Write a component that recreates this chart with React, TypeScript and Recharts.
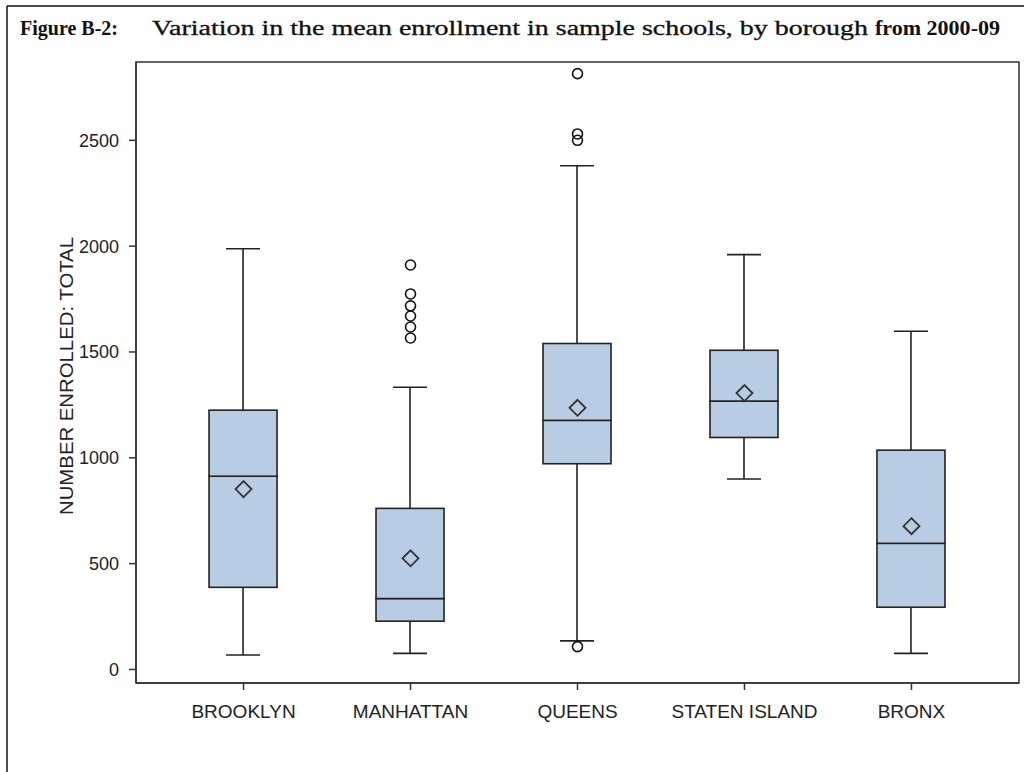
import { ComposedChart, Bar, Scatter, XAxis, YAxis, ReferenceArea } from "recharts";

// box plot summary (number enrolled)
const BOROUGHS = ["BROOKLYN", "MANHATTAN", "QUEENS", "STATEN ISLAND", "BRONX"];
const WHISKER_LOW = [68, 76, 135, 900, 76];
const Q1 = [388, 228, 972, 1096, 294];
const MEDIAN = [913, 335, 1177, 1268, 596];
const Q3 = [1225, 761, 1540, 1508, 1036];
const WHISKER_HIGH = [1988, 1333, 2380, 1960, 1598];
const MEAN = [852, 525, 1236, 1306, 677];

// outliers: borough index + value
const OUTLIER_BOROUGH = [1, 1, 1, 1, 1, 1, 2, 2, 2, 2];
const OUTLIER_VALUE = [1911, 1774, 1718, 1670, 1618, 1566, 2815, 2530, 2500, 108];

const Y_TICKS = [0, 500, 1000, 1500, 2000, 2500];
const X_TICKS = [0, 1, 2, 3, 4];
const Y_DOMAIN = [-64, 2870];
const X_DOMAIN = [-0.644, 4.644];

const BOX_FILL = "#b8cce4";
const INK = "#222";
const SANS = "'Liberation Sans', Arial, sans-serif";
const SERIF = "'Liberation Serif', 'Times New Roman', serif";

const boxRows = BOROUGHS.map((name, i) => ({
  x: i,
  name,
  base: WHISKER_LOW[i],
  lowWhisker: Q1[i] - WHISKER_LOW[i],
  boxLow: MEDIAN[i] - Q1[i],
  boxHigh: Q3[i] - MEDIAN[i],
  highWhisker: WHISKER_HIGH[i] - Q3[i],
}));

const meanPoints = BOROUGHS.map((_, i) => ({ x: i, value: MEAN[i] }));
const outlierPoints = OUTLIER_VALUE.map((v, i) => ({ x: OUTLIER_BOROUGH[i], value: v }));

const CAP = 17;

const LowWhisker = (p: any) => {
  const cx = p.x + p.width / 2;
  const bottom = p.y + p.height;
  return (
    <g>
      <line x1={cx} x2={cx} y1={p.y} y2={bottom} stroke={INK} strokeWidth={1.6} />
      <line x1={cx - CAP} x2={cx + CAP} y1={bottom} y2={bottom} stroke={INK} strokeWidth={1.6} />
    </g>
  );
};

const HighWhisker = (p: any) => {
  const cx = p.x + p.width / 2;
  return (
    <g>
      <line x1={cx} x2={cx} y1={p.y} y2={p.y + p.height} stroke={INK} strokeWidth={1.6} />
      <line x1={cx - CAP} x2={cx + CAP} y1={p.y} y2={p.y} stroke={INK} strokeWidth={1.6} />
    </g>
  );
};

const BoxPart = (p: any) => (
  <rect x={p.x} y={p.y} width={p.width} height={p.height} fill={BOX_FILL} stroke={INK} strokeWidth={1.6} />
);

const Diamond = (p: any) => {
  const r = 8;
  return (
    <path
      d={`M${p.cx},${p.cy - r} L${p.cx + r},${p.cy} L${p.cx},${p.cy + r} L${p.cx - r},${p.cy} Z`}
      fill="none"
      stroke="#333"
      strokeWidth={1.8}
    />
  );
};

const Ring = (p: any) => <circle cx={p.cx} cy={p.cy} r={5} fill="none" stroke="#111" strokeWidth={1.6} />;

export default function App() {
  return (
    <div style={{ position: "absolute", left: 0, top: 0, width: 1024, height: 772, background: "#fff", overflow: "hidden" }}>
      <ComposedChart width={1024} height={772} data={boxRows} margin={{ top: 62, right: 5, bottom: 0, left: 0 }}>
        <ReferenceArea
          x1={X_DOMAIN[0]}
          x2={X_DOMAIN[1]}
          y1={Y_DOMAIN[0]}
          y2={Y_DOMAIN[1]}
          fill="none"
          stroke="#333"
          strokeWidth={1.5}
          fillOpacity={0}
        />
        <XAxis
          dataKey="x"
          type="number"
          domain={X_DOMAIN}
          ticks={X_TICKS}
          interval={0}
          allowDataOverflow
          height={89}
          tickSize={7}
          tickMargin={15}
          tickFormatter={(v: number) => BOROUGHS[v]}
          stroke="#333"
          strokeWidth={1.5}
          tick={{ fill: INK, fontSize: 19, fontFamily: SANS }}
        />
        <YAxis
          type="number"
          domain={Y_DOMAIN}
          ticks={Y_TICKS}
          allowDataOverflow
          width={136}
          tickSize={7}
          tickMargin={10}
          stroke="#333"
          strokeWidth={1.5}
          tick={{ fill: INK, fontSize: 18, fontFamily: SANS }}
        />
        <Bar dataKey="base" stackId="box" barSize={68} fill="none" isAnimationActive={false} />
        <Bar dataKey="lowWhisker" stackId="box" barSize={68} shape={LowWhisker} isAnimationActive={false} />
        <Bar dataKey="boxLow" stackId="box" barSize={68} shape={BoxPart} isAnimationActive={false} />
        <Bar dataKey="boxHigh" stackId="box" barSize={68} shape={BoxPart} isAnimationActive={false} />
        <Bar dataKey="highWhisker" stackId="box" barSize={68} shape={HighWhisker} isAnimationActive={false} />
        <Scatter data={meanPoints} dataKey="value" shape={Diamond} isAnimationActive={false} />
        <Scatter data={outlierPoints} dataKey="value" shape={Ring} isAnimationActive={false} />
      </ComposedChart>
      <svg width={1024} height={772} style={{ position: "absolute", left: 0, top: 0, pointerEvents: "none" }}>
        <line x1={7} x2={1024} y1={6} y2={6} stroke="#111" strokeWidth={1.5} />
        <line x1={7} x2={7} y1={6} y2={772} stroke="#111" strokeWidth={1.5} />
        <text x={20} y={35} fontFamily={SERIF} fontWeight="bold" fontSize={20} fill="#111" textLength={98} lengthAdjust="spacingAndGlyphs">
          Figure B-2:
        </text>
        <text x={152} y={35} fontFamily={SERIF} fontSize={20} fill="#111" stroke="#111" strokeWidth={0.3} textLength={716} lengthAdjust="spacingAndGlyphs">
          Variation in the mean enrollment in sample schools, by borough
        </text>
        <text x={875} y={35} fontFamily={SERIF} fontWeight="bold" fontSize={20} fill="#111" textLength={125} lengthAdjust="spacingAndGlyphs">
          from 2000-09
        </text>
        <text
          x={0}
          y={0}
          transform="translate(73,376) rotate(-90)"
          textAnchor="middle"
          fontFamily={SANS}
          fontSize={18}
          fill={INK}
          textLength={278}
          lengthAdjust="spacingAndGlyphs"
        >
          NUMBER ENROLLED: TOTAL
        </text>
      </svg>
    </div>
  );
}
